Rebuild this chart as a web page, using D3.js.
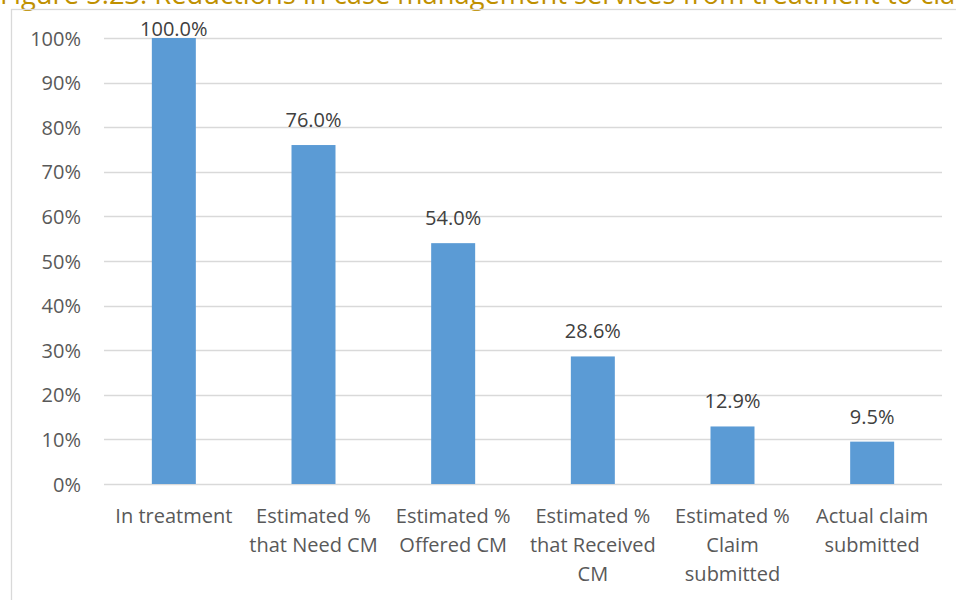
<!DOCTYPE html>
<html>
<head>
<meta charset="utf-8">
<script src="https://cdn.jsdelivr.net/npm/d3@7"></script>
<style>
  body { margin: 0; background: #fff; }
  svg { font-family: "Open Sans", Lato, sans-serif; }
</style>
</head>
<body>
<svg id="chart" width="956" height="600"></svg>
<script>
// chart data
var categories = [
    ["In treatment"],
    ["Estimated %", "that Need CM"],
    ["Estimated %", "Offered CM"],
    ["Estimated %", "that Received", "CM"],
    ["Estimated %", "Claim", "submitted"],
    ["Actual claim", "submitted"]
];
var values = [100.0, 76.0, 54.0, 28.6, 12.9, 9.5];
var yTicks = [0, 10, 20, 30, 40, 50, 60, 70, 80, 90, 100];
var title = "Figure 5.23: Reductions in case management services from treatment to claim submission";

var svg = d3.select("#chart");
var margin = {left: 104, right: 14, top: 38, bottom: 116};
var width = 956, height = 600;

// cut-off caption at the very top (only its lower part shows, as in the source)
svg.append("text")
    .attr("x", 0)
    .attr("y", 4)
    .attr("fill", "#BF9000")
    .style("font-size", "27.3px")
    .text(title);

// chart frame
svg.append("rect")
    .attr("x", 11.5)
    .attr("y", 9.5)
    .attr("width", 960)
    .attr("height", 600)
    .attr("fill", "none")
    .attr("stroke", "#D9D9D9")
    .attr("stroke-width", 1.3);

var x = d3.scaleBand()
    .domain(d3.range(categories.length))
    .range([margin.left, width - margin.right])
    .paddingInner(0.685)
    .paddingOuter(0.3425);

var y = d3.scaleLinear()
    .domain([0, 100])
    .range([height - margin.bottom, margin.top]);

// gridlines
svg.append("g")
    .selectAll("line")
    .data(yTicks)
    .enter().append("line")
    .attr("x1", margin.left)
    .attr("x2", width - margin.right)
    .attr("y1", function (d) { return Math.round(y(d)) + 0.5; })
    .attr("y2", function (d) { return Math.round(y(d)) + 0.5; })
    .attr("stroke", "#D9D9D9")
    .attr("stroke-width", 1.3);

// y axis labels
svg.append("g")
    .selectAll("text")
    .data(yTicks)
    .enter().append("text")
    .attr("x", 81)
    .attr("y", function (d) { return y(d) + 7.5; })
    .attr("text-anchor", "end")
    .attr("fill", "#595959")
    .style("font-size", "20px")
    .text(function (d) { return d + "%"; });

// bars
svg.append("g")
    .selectAll("rect")
    .data(values)
    .enter().append("rect")
    .attr("x", function (d, i) { return x(i); })
    .attr("y", function (d) { return y(d); })
    .attr("width", x.bandwidth())
    .attr("height", function (d) { return y(0) - y(d); })
    .attr("fill", "#5B9BD5");

// value labels
svg.append("g")
    .selectAll("text")
    .data(values)
    .enter().append("text")
    .attr("x", function (d, i) { return x(i) + x.bandwidth() / 2; })
    .attr("y", function (d) { return Math.max(y(d) - 18, 36); })
    .attr("text-anchor", "middle")
    .attr("fill", "#404040")
    .style("font-size", "20px")
    .text(function (d) { return d.toFixed(1) + "%"; });

// category labels
var cat = svg.append("g")
    .selectAll("text")
    .data(categories)
    .enter().append("text")
    .attr("text-anchor", "middle")
    .attr("fill", "#595959")
    .style("font-size", "20px");

cat.selectAll("tspan")
    .data(function (d, i) {
        return d.map(function (line) { return {line: line, i: i}; });
    })
    .enter().append("tspan")
    .attr("x", function (d) { return x(d.i) + x.bandwidth() / 2; })
    .attr("y", function (d, j) { return 523 + j * 29; })
    .text(function (d) { return d.line; });
</script>
</body>
</html>
